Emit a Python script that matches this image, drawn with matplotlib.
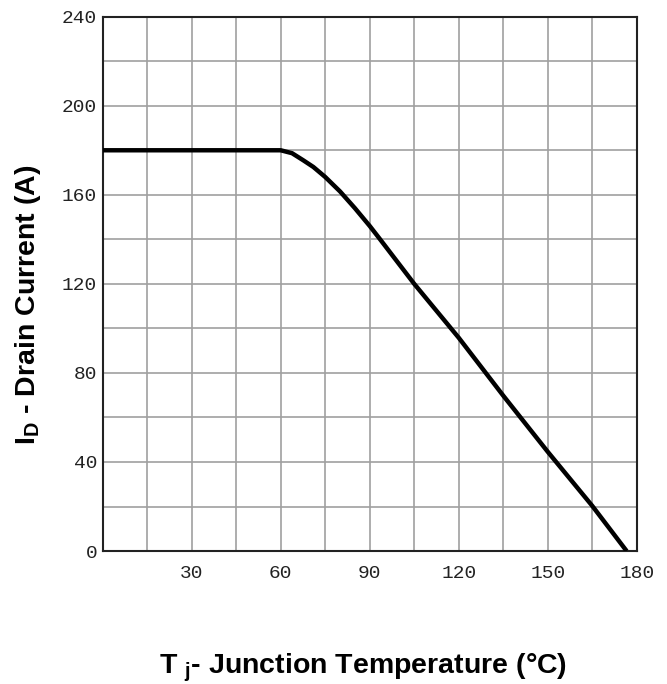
import matplotlib
matplotlib.use("Agg")
import matplotlib.pyplot as plt
from matplotlib.ticker import MultipleLocator

# derating curve
temp_c = [0, 60, 63.8, 67.6, 71, 75, 80, 85, 90, 93.5,
          105, 120, 135, 150, 165, 176.6]
drain_a = [180, 180, 178.7, 175.5, 172.5, 168, 161.5, 154, 146, 140,
           120, 95.8, 69.8, 44.6, 20.3, 0]

x_ticks = [30, 60, 90, 120, 150, 180]
y_ticks = [0, 40, 80, 120, 160, 200, 240]

plt.rcParams["mathtext.fontset"] = "custom"
plt.rcParams["mathtext.rm"] = "Liberation Sans:bold"
plt.rcParams["mathtext.it"] = "Liberation Sans:bold"
plt.rcParams["mathtext.default"] = "rm"

fig = plt.figure(figsize=(6.67, 6.84), dpi=100)
ax = fig.add_axes([0.154, 0.1944, 0.8006, 0.7812])

ax.plot(temp_c, drain_a, color="black", linewidth=3.2, solid_capstyle="butt",
        solid_joinstyle="round", zorder=3)

ax.set_xlim(0, 180)
ax.set_ylim(0, 240)
ax.set_xticks(x_ticks)
ax.set_yticks(y_ticks)
ax.xaxis.set_minor_locator(MultipleLocator(15))
ax.yaxis.set_minor_locator(MultipleLocator(20))
ax.grid(which="both", color="#a0a0a0", linewidth=1.2)
ax.tick_params(which="both", length=0)
ax.tick_params(axis="x", pad=10)
ax.tick_params(axis="y", pad=4)
for lab in ax.get_xticklabels() + ax.get_yticklabels():
    lab.set_fontfamily("Liberation Mono")
    lab.set_fontsize(14)
    lab.set_color("#222222")
for s in ax.spines.values():
    s.set_linewidth(1.5)
    s.set_color("#222222")

fig.text(0.042, 1 - 305 / 684, "I$_{D}$ - Drain Current (A)", rotation=90,
         ha="center", va="center", fontsize=20.5, fontweight="bold",
         family="Liberation Sans")
fig.text(363 / 667, 11 / 684, "T $_{j}$- Junction Temperature (°C)",
         ha="center", va="baseline", fontsize=20.5, fontweight="bold",
         family="Liberation Sans")

fig.savefig("out.png", dpi=100)
